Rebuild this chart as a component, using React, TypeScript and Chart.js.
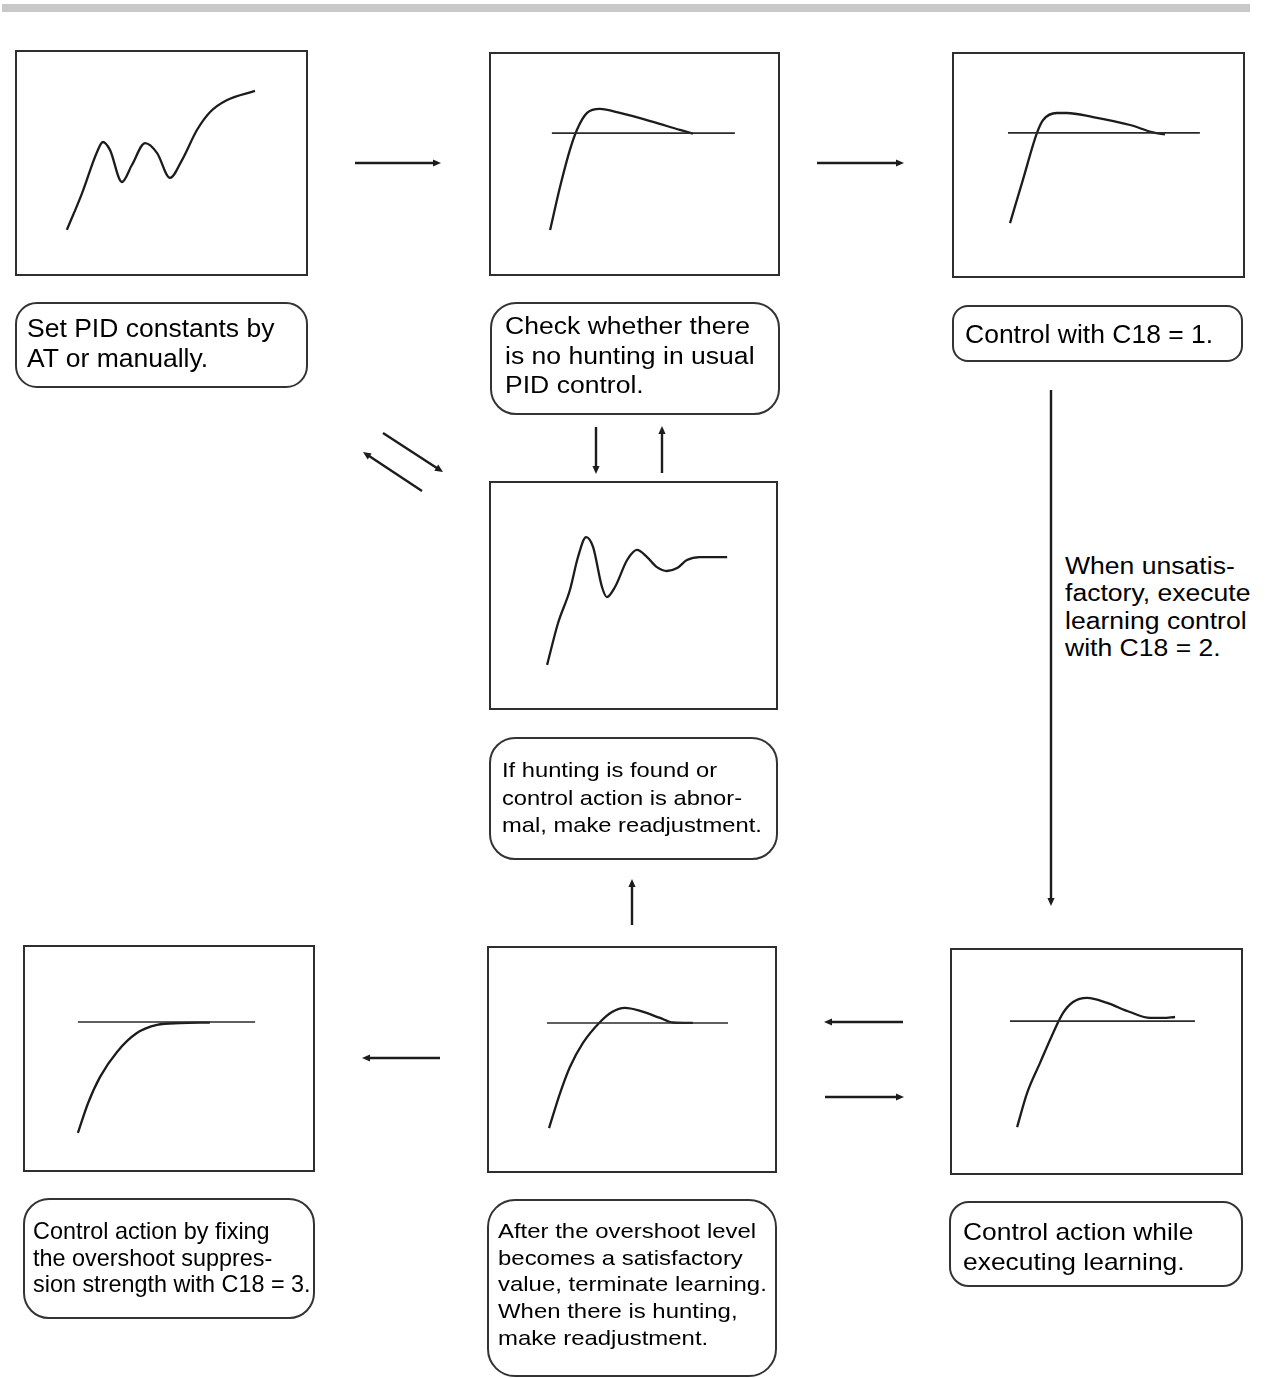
import React, { useEffect, useRef } from "react";
import { Chart, registerables } from "chart.js";

Chart.register(...registerables);

// ---------- Data (time in % of panel width, response in % of panel height) ----------
const p1Time = [17.7, 22.9, 28.0, 30.0, 32.4, 36.5, 39.9, 44.4, 48.5, 52.9, 57.0, 62.1, 66.6, 72.4, 81.9];
const p1Value = [20.4, 36.7, 54.9, 59.3, 55.8, 41.6, 49.1, 58.8, 54.4, 43.4, 51.3, 64.6, 72.6, 77.9, 81.9];

const p2Time = [21.0, 24.4, 27.8, 30.2, 33.7, 38.1, 45.0, 56.4, 65.6, 70.1];
const p2Value = [20.5, 39.7, 56.3, 65.2, 72.8, 74.6, 72.8, 68.8, 65.2, 63.6];
const p2SpTime = [21.6, 84.5];
const p2SpValue = [63.8, 63.8];

const p3Time = [19.8, 24.2, 29.0, 31.1, 35.8, 39.2, 48.1, 60.8, 68.6, 72.7];
const p3Value = [24.3, 43.4, 64.2, 69.9, 73.0, 73.0, 71.2, 67.7, 64.4, 63.6];
const p3SpTime = [19.1, 84.6];
const p3SpValue = [64.2, 64.2];

const p4Time = [20.1, 23.9, 28.0, 30.8, 33.6, 36.0, 39.1, 40.8, 43.6, 47.8, 51.2, 54.7, 58.1, 61.6, 65.1, 68.5, 73.0, 82.4];
const p4Value = [19.7, 38.0, 52.4, 66.8, 75.5, 71.2, 53.7, 49.3, 53.7, 65.5, 69.9, 66.8, 62.4, 60.7, 62.0, 65.5, 66.8, 66.8];

const p5Time = [18.8, 22.3, 26.4, 32.2, 39.0, 45.9, 53.8, 64.0];
const p5Value = [17.2, 30.4, 41.9, 52.9, 61.2, 64.8, 65.6, 65.8];
const p5SpTime = [18.8, 79.5];
const p5SpValue = [66.1, 66.1];

const p6Time = [21.4, 25.2, 28.6, 33.1, 39.0, 43.1, 47.6, 52.8, 59.7, 64.1, 71.0];
const p6Value = [19.8, 35.2, 46.7, 57.3, 66.5, 70.9, 72.7, 71.4, 68.3, 66.3, 66.1];
const p6SpTime = [20.7, 83.1];
const p6SpValue = [66.1, 66.1];

const p7Time = [22.9, 26.3, 30.7, 35.2, 38.6, 42.0, 46.8, 53.6, 61.4, 68.3, 72.7, 76.8];
const p7Value = [21.1, 36.1, 49.3, 62.6, 71.4, 76.2, 78.0, 75.8, 71.8, 69.2, 69.2, 69.6];
const p7SpTime = [20.5, 83.6];
const p7SpValue = [67.8, 67.8];

// ---------- Texts ----------
const text1 = ["Set PID constants by", "AT or manually."];
const text2 = ["Check whether there", "is no hunting in usual", "PID control."];
const text3 = ["Control with C18 = 1."];
const text4 = ["If hunting is found or", "control action is abnor-", "mal, make readjustment."];
const text5 = ["Control action by fixing", "the overshoot suppres-", "sion strength with C18 = 3."];
const text6 = [
  "After the overshoot level",
  "becomes a satisfactory",
  "value, terminate learning.",
  "When there is hunting,",
  "make readjustment.",
];
const text7 = ["Control action while", "executing learning."];
const sideText = ["When unsatis-", "factory, execute", "learning control", "with C18 = 2."];

const FONT = '"Liberation Sans", Arial, Helvetica, sans-serif';
const INK = "#1c1c1c";

type PanelProps = {
  left: number;
  top: number;
  width: number;
  height: number;
  time: number[];
  value: number[];
  spTime?: number[];
  spValue?: number[];
};

function Panel({ left, top, width, height, time, value, spTime, spValue }: PanelProps) {
  const ref = useRef<HTMLCanvasElement | null>(null);
  useEffect(() => {
    if (!ref.current) return;
    const datasets: any[] = [];
    if (spTime && spValue) {
      datasets.push({
        data: spTime.map((t, i) => ({ x: t, y: spValue[i] })),
        borderColor: "#2a2a2a",
        borderWidth: 1.6,
        pointRadius: 0,
        tension: 0,
        fill: false,
      });
    }
    datasets.push({
      data: time.map((t, i) => ({ x: t, y: value[i] })),
      borderColor: INK,
      borderWidth: 2.3,
      pointRadius: 0,
      cubicInterpolationMode: "monotone",
      fill: false,
    });
    const chart = new Chart(ref.current, {
      type: "line",
      data: { datasets },
      options: {
        animation: false,
        responsive: false,
        events: [],
        layout: { padding: 0 },
        scales: {
          x: { type: "linear", min: 0, max: 100, display: false },
          y: { type: "linear", min: 0, max: 100, display: false },
        },
        plugins: { legend: { display: false }, tooltip: { enabled: false } },
      },
    });
    return () => chart.destroy();
  }, []);
  return (
    <div style={{ position: "absolute", left, top, width, height }}>
      <canvas
        ref={ref}
        width={width}
        height={height}
        style={{ position: "absolute", left: 0, top: 0, width, height }}
      />
      <div
        style={{
          position: "absolute",
          left: 0,
          top: 0,
          width,
          height,
          boxSizing: "border-box",
          border: "2px solid #2e2e2e",
        }}
      />
    </div>
  );
}

type TextProps = {
  lines: string[];
  left: number;
  top: number;
  fs: number;
  lh: number;
  sx?: number;
};

function TextBlock({ lines, left, top, fs, lh, sx = 1 }: TextProps) {
  return (
    <div
      style={{
        position: "absolute",
        left,
        top,
        fontFamily: FONT,
        fontSize: fs,
        lineHeight: `${lh}px`,
        color: "#000",
        whiteSpace: "pre",
        transform: `scaleX(${sx})`,
        transformOrigin: "left top",
      }}
    >
      {lines.join("\n")}
    </div>
  );
}

type BoxProps = { left: number; top: number; width: number; height: number; radius: number };

function RoundBox({ left, top, width, height, radius }: BoxProps) {
  return (
    <div
      style={{
        position: "absolute",
        left,
        top,
        width,
        height,
        boxSizing: "border-box",
        border: "2px solid #333",
        borderRadius: radius,
      }}
    />
  );
}

type ArrowDef = [number, number, number, number];

const arrows: ArrowDef[] = [
  [355, 163, 441, 163],
  [817, 163, 904, 163],
  [383, 433, 443, 472],
  [422, 491, 363, 452],
  [596, 427, 596, 474],
  [662, 473, 662, 426],
  [1051, 390, 1051, 906],
  [632, 925, 632, 879],
  [440, 1058, 362, 1058],
  [903, 1022, 824, 1022],
  [825, 1097, 904, 1097],
];

function Arrows() {
  return (
    <svg
      width={1269}
      height={1378}
      style={{ position: "absolute", left: 0, top: 0, pointerEvents: "none" }}
    >
      {arrows.map(([x1, y1, x2, y2], i) => {
        const dx = x2 - x1;
        const dy = y2 - y1;
        const len = Math.hypot(dx, dy);
        const ux = dx / len;
        const uy = dy / len;
        const L = 8;
        const W = 3.6;
        const bx = x2 - ux * L;
        const by = y2 - uy * L;
        const px = -uy;
        const py = ux;
        const pts = `${x2},${y2} ${bx + px * W},${by + py * W} ${bx - px * W},${by - py * W}`;
        return (
          <g key={i}>
            <line x1={x1} y1={y1} x2={bx + ux * 2} y2={by + uy * 2} stroke={INK} strokeWidth={2.4} />
            <polygon points={pts} fill={INK} />
          </g>
        );
      })}
    </svg>
  );
}

export default function App() {
  return (
    <div
      style={{
        position: "absolute",
        left: 0,
        top: 0,
        width: 1269,
        height: 1378,
        background: "#fff",
        overflow: "hidden",
      }}
    >
      <div style={{ position: "absolute", left: 2, top: 4, width: 1248, height: 8, background: "#c8c8c8" }} />

      <Panel left={15} top={50} width={293} height={226} time={p1Time} value={p1Value} />
      <Panel left={489} top={52} width={291} height={224} time={p2Time} value={p2Value} spTime={p2SpTime} spValue={p2SpValue} />
      <Panel left={952} top={52} width={293} height={226} time={p3Time} value={p3Value} spTime={p3SpTime} spValue={p3SpValue} />
      <Panel left={489} top={481} width={289} height={229} time={p4Time} value={p4Value} />
      <Panel left={23} top={945} width={292} height={227} time={p5Time} value={p5Value} spTime={p5SpTime} spValue={p5SpValue} />
      <Panel left={487} top={946} width={290} height={227} time={p6Time} value={p6Value} spTime={p6SpTime} spValue={p6SpValue} />
      <Panel left={950} top={948} width={293} height={227} time={p7Time} value={p7Value} spTime={p7SpTime} spValue={p7SpValue} />

      <RoundBox left={15} top={302} width={293} height={86} radius={22} />
      <TextBlock lines={text1} left={27} top={313} fs={26.5} lh={30} />

      <RoundBox left={490} top={302} width={290} height={113} radius={26} />
      <TextBlock lines={text2} left={505} top={312} fs={23.3} lh={29.5} sx={1.14} />

      <RoundBox left={952} top={305} width={291} height={57} radius={16} />
      <TextBlock lines={text3} left={965} top={319} fs={25} lh={30} sx={1.06} />

      <RoundBox left={489} top={737} width={289} height={123} radius={26} />
      <TextBlock lines={text4} left={502} top={756} fs={21} lh={27.5} sx={1.13} />

      <RoundBox left={23} top={1198} width={292} height={121} radius={26} />
      <TextBlock lines={text5} left={33} top={1218} fs={23.4} lh={26.7} />

      <RoundBox left={487} top={1199} width={290} height={178} radius={28} />
      <TextBlock lines={text6} left={498} top={1218} fs={21} lh={26.7} sx={1.14} />

      <RoundBox left={949} top={1201} width={294} height={86} radius={20} />
      <TextBlock lines={text7} left={963} top={1217} fs={24} lh={30} sx={1.1} />

      <TextBlock lines={sideText} left={1065} top={553} fs={23.3} lh={27.3} sx={1.14} />

      <Arrows />
    </div>
  );
}
